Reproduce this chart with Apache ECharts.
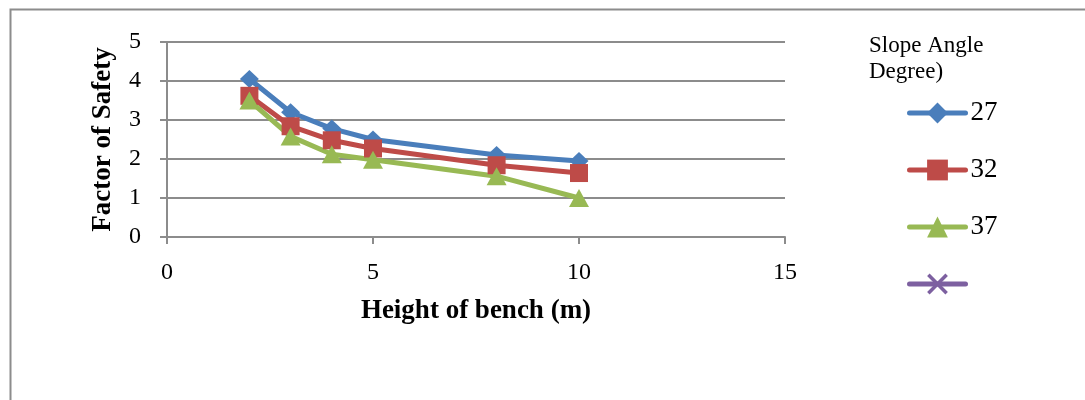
<!DOCTYPE html>
<html>
<head>
<meta charset="utf-8">
<script src="https://cdn.jsdelivr.net/npm/echarts@6/dist/echarts.min.js"></script>
<style>
  html, body { margin: 0; padding: 0; background: #fff; }
  #chart { width: 1085px; height: 400px; }
</style>
</head>
<body>
<div id="chart"></div>
<script>
// Bench height (m) against factor of safety, one line per slope angle
const benchHeights = [2, 3, 4, 5, 8, 10];
const fos27 = [4.05, 3.2, 2.78, 2.5, 2.1, 1.95];
const fos32 = [3.62, 2.84, 2.48, 2.27, 1.84, 1.64];
const fos37 = [3.5, 2.58, 2.12, 1.98, 1.56, 1.0];
const seriesNames = ['27', '32', '37', ' '];
const seriesColors = ['#4a7ebb', '#be4b48', '#98b954', '#7d60a0'];

const FONT = '"Liberation Serif", "Times New Roman", serif';
const GRID_GRAY = '#8c8c8c';
const CROSS = 'path://M0,1.2 L1.2,0 L5,3.8 L8.8,0 L10,1.2 L6.2,5 L10,8.8 L8.8,10 L5,6.2 L1.2,10 L0,8.8 L3.8,5 Z';

function pairs(ys) {
  return benchHeights.map((x, i) => [x, ys[i]]);
}

const chart = echarts.init(document.getElementById('chart'), null, { renderer: 'canvas' });

chart.setOption({
  animation: false,
  backgroundColor: '#fff',
  graphic: [{
    type: 'rect',
    left: 8, top: 7,
    shape: { width: 1200, height: 500 },
    style: { fill: 'none', stroke: '#8c8c8c', lineWidth: 2 },
    silent: true
  }],
  title: {
    text: 'Slope Angle\nDegree)',
    left: 864, top: 28,
    textStyle: { fontFamily: FONT, fontSize: 23, fontWeight: 'normal', color: '#000', lineHeight: 26 }
  },
  legend: {
    orient: 'vertical',
    left: 902, top: 94,
    itemWidth: 56, itemHeight: 26,
    itemGap: 29,
    data: seriesNames,
    lineStyle: { width: 5, cap: 'round' },
    textStyle: { fontFamily: FONT, fontSize: 27, color: '#000', lineHeight: 28 }
  },
  grid: { left: 167, top: 42, right: 300, bottom: 163, containLabel: false },
  xAxis: {
    type: 'value',
    min: 0, max: 15, interval: 5,
    name: 'Height of bench (m)',
    nameLocation: 'middle',
    nameGap: 61,
    nameTextStyle: { fontFamily: FONT, fontSize: 27, fontWeight: 'bold', color: '#000' },
    axisLine: { show: true, lineStyle: { color: GRID_GRAY, width: 2 } },
    axisTick: { show: true, length: 7, lineStyle: { color: GRID_GRAY, width: 2 } },
    axisLabel: { fontFamily: FONT, fontSize: 24, color: '#000', margin: 24 },
    splitLine: { show: false }
  },
  yAxis: {
    type: 'value',
    min: 0, max: 5, interval: 1,
    name: 'Factor of Safety',
    nameLocation: 'middle',
    nameGap: 50,
    nameRotate: 90,
    nameTextStyle: { fontFamily: FONT, fontSize: 27, fontWeight: 'bold', color: '#000' },
    axisLine: { show: true, lineStyle: { color: GRID_GRAY, width: 2 } },
    axisTick: { show: true, length: 7, lineStyle: { color: GRID_GRAY, width: 2 } },
    axisLabel: { fontFamily: FONT, fontSize: 24, color: '#000', margin: 26 },
    splitLine: { show: true, lineStyle: { color: GRID_GRAY, width: 2 } }
  },
  series: [
    {
      name: seriesNames[0], type: 'line', data: pairs(fos27),
      color: seriesColors[0], symbol: 'diamond', symbolSize: [19, 18],
      lineStyle: { width: 5 }, itemStyle: { color: seriesColors[0] }
    },
    {
      name: seriesNames[1], type: 'line', data: pairs(fos32),
      color: seriesColors[1], symbol: 'rect', symbolSize: 18,
      lineStyle: { width: 5 }, itemStyle: { color: seriesColors[1] }
    },
    {
      name: seriesNames[2], type: 'line', data: pairs(fos37),
      color: seriesColors[2], symbol: 'triangle', symbolSize: [20, 18],
      lineStyle: { width: 5 }, itemStyle: { color: seriesColors[2] }
    },
    {
      name: seriesNames[3], type: 'line', data: [],
      color: seriesColors[3], symbol: CROSS, symbolSize: 18,
      lineStyle: { width: 5 }, itemStyle: { color: seriesColors[3] }
    }
  ]
});
</script>
</body>
</html>
